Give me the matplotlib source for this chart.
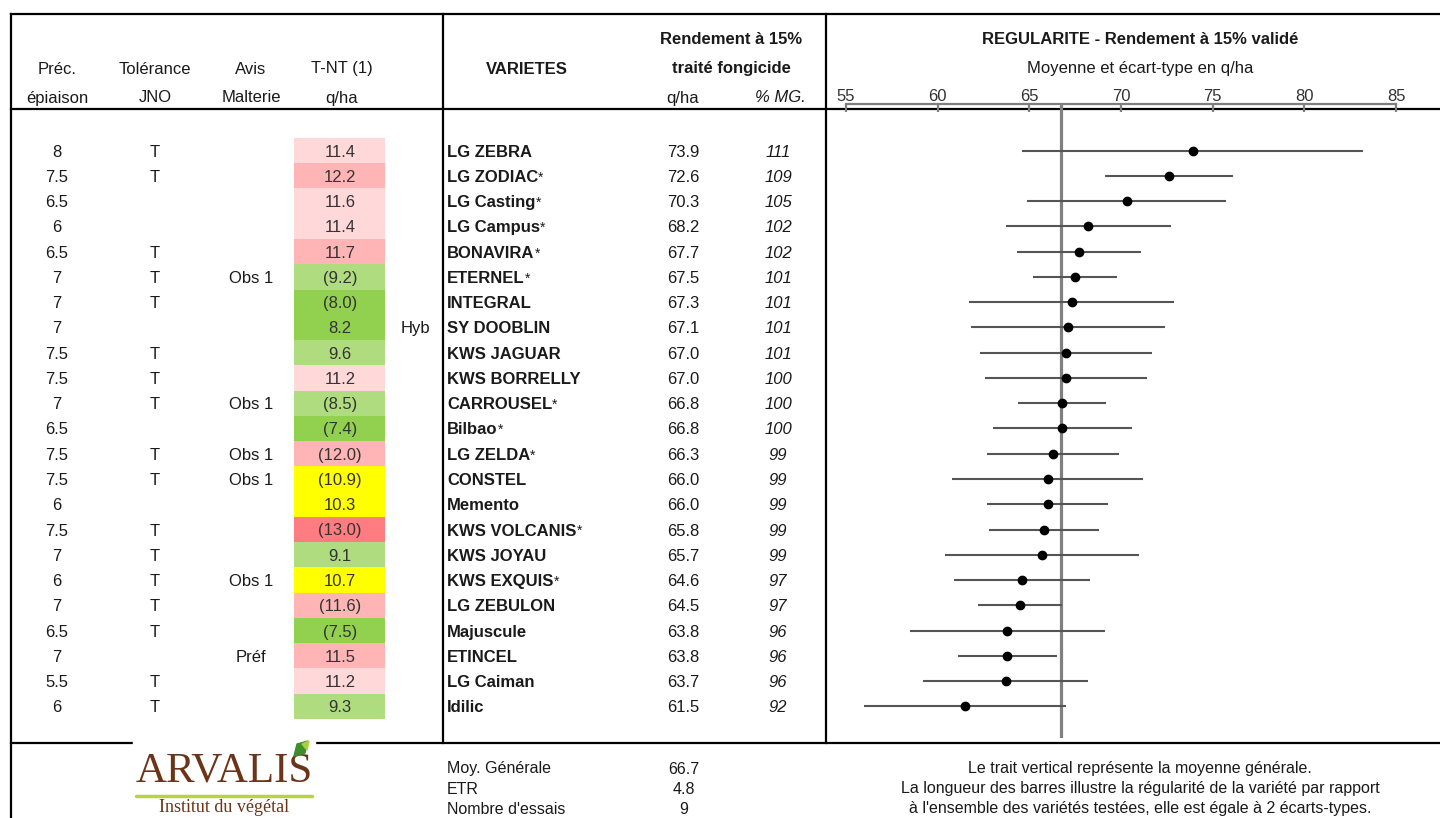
import numpy as np
import matplotlib
matplotlib.use("Agg")
import matplotlib.pyplot as plt
from matplotlib.patches import Rectangle, Polygon

plt.rcParams['font.family'] = ['Liberation Sans', 'DejaVu Sans']

# ---- data ----
prec = ['8', '7.5', '6.5', '6', '6.5', '7', '7', '7', '7.5', '7.5', '7', '6.5',
        '7.5', '7.5', '6', '7.5', '7', '6', '7', '6.5', '7', '5.5', '6']
tolerance = ['T', 'T', '', '', 'T', 'T', 'T', '', 'T', 'T', 'T', '',
             'T', 'T', '', 'T', 'T', 'T', 'T', 'T', '', 'T', 'T']
avis = ['', '', '', '', '', 'Obs 1', '', '', '', '', 'Obs 1', '',
        'Obs 1', 'Obs 1', '', '', '', 'Obs 1', '', '', 'Préf', '', '']
tnt = ['11.4', '12.2', '11.6', '11.4', '11.7', '(9.2)', '(8.0)', '8.2', '9.6', '11.2', '(8.5)', '(7.4)',
       '(12.0)', '(10.9)', '10.3', '(13.0)', '9.1', '10.7', '(11.6)', '(7.5)', '11.5', '11.2', '9.3']
tnt_class = ['lp', 'mp', 'lp', 'lp', 'mp', 'lg', 'mg', 'mg', 'lg', 'lp', 'lg', 'mg',
             'mp', 'y', 'y', 'r', 'lg', 'y', 'mp', 'mg', 'mp', 'lp', 'lg']
hyb = ['', '', '', '', '', '', '', 'Hyb', '', '', '', '', '', '', '', '', '', '', '', '', '', '', '']
varietes = ['LG ZEBRA', 'LG ZODIAC', 'LG Casting', 'LG Campus', 'BONAVIRA', 'ETERNEL', 'INTEGRAL',
            'SY DOOBLIN', 'KWS JAGUAR', 'KWS BORRELLY', 'CARROUSEL', 'Bilbao', 'LG ZELDA', 'CONSTEL',
            'Memento', 'KWS VOLCANIS', 'KWS JOYAU', 'KWS EXQUIS', 'LG ZEBULON', 'Majuscule',
            'ETINCEL', 'LG Caiman', 'Idilic']
asterisk = [0, 1, 1, 1, 1, 1, 0, 0, 0, 0, 1, 1, 1, 0, 0, 1, 0, 1, 0, 0, 0, 0, 0]
rendement = [73.9, 72.6, 70.3, 68.2, 67.7, 67.5, 67.3, 67.1, 67.0, 67.0, 66.8, 66.8,
             66.3, 66.0, 66.0, 65.8, 65.7, 64.6, 64.5, 63.8, 63.8, 63.7, 61.5]
pct_mg = [111, 109, 105, 102, 102, 101, 101, 101, 101, 100, 100, 100,
          99, 99, 99, 99, 99, 97, 97, 96, 96, 96, 92]
ecart = [9.3, 3.5, 5.4, 4.5, 3.4, 2.3, 5.6, 5.3, 4.7, 4.4, 2.4, 3.8,
         3.6, 5.2, 3.3, 3.0, 5.3, 3.7, 2.3, 5.3, 2.7, 4.5, 5.5]
moy_generale = 66.7
etr = 4.8
nb_essais = 9
xticks = [55, 60, 65, 70, 75, 80, 85]

cell_colors = {'lp': '#FFD9D9', 'mp': '#FFB5B5', 'r': '#FF7C80',
               'lg': '#AEDC7E', 'mg': '#92D050', 'y': '#FFFF00'}

# ---- layout (pixels) ----
W, H = 1440, 818
Y0, ROW_H = 150.6, 25.26
n = len(varietes)
rows_y = Y0 + ROW_H * np.arange(n)

fig = plt.figure(figsize=(W / 100, H / 100), dpi=100)
ax = fig.add_axes([0, 0, 1, 1])
ax.set_xlim(0, W)
ax.set_ylim(H, 0)
ax.axis('off')

# frame
lw = 1.6
ax.plot([11, W], [14, 14], color='black', lw=lw)
ax.plot([11, W], [109, 109], color='black', lw=lw)
ax.plot([11, W], [743, 743], color='black', lw=lw)
ax.plot([11, 11], [14, H], color='black', lw=lw)
ax.plot([443, 443], [14, 743], color='black', lw=lw)
ax.plot([826, 826], [14, 743], color='black', lw=lw)

fs = 12
tc = '#1a1a1a'
# headers
ax.text(57, 69, 'Préc.', ha='center', va='center', fontsize=fs, color=tc)
ax.text(57, 98, 'épiaison', ha='center', va='center', fontsize=fs, color=tc)
ax.text(155, 69, 'Tolérance', ha='center', va='center', fontsize=fs, color=tc)
ax.text(155, 98, 'JNO', ha='center', va='center', fontsize=fs, color=tc)
ax.text(251, 69, 'Avis', ha='center', va='center', fontsize=fs, color=tc)
ax.text(251, 98, 'Malterie', ha='center', va='center', fontsize=fs, color=tc)
ax.text(342, 69, 'T-NT (1)', ha='center', va='center', fontsize=fs, color=tc)
ax.text(342, 98, 'q/ha', ha='center', va='center', fontsize=fs, color=tc)
ax.text(527, 69, 'VARIETES', ha='center', va='center', fontsize=fs, weight='bold', color=tc)
ax.text(731, 40, 'Rendement à 15%', ha='center', va='center', fontsize=fs, weight='bold', color=tc)
ax.text(731, 69, 'traité fongicide', ha='center', va='center', fontsize=fs, weight='bold', color=tc)
ax.text(683, 98, 'q/ha', ha='center', va='center', fontsize=fs, color=tc)
ax.text(780, 98, '% MG.', ha='center', va='center', fontsize=fs, style='italic', color=tc)
ax.text(1140, 40, 'REGULARITE - Rendement à 15% validé', ha='center', va='center',
        fontsize=fs, weight='bold', color=tc)
ax.text(1140, 69, 'Moyenne et écart-type en q/ha', ha='center', va='center', fontsize=fs, color=tc)

# T-NT coloured cells
ax.barh(rows_y, 91, left=294, height=ROW_H, color=[cell_colors[c] for c in tnt_class], lw=0)

for i, y in enumerate(rows_y):
    ty = y + 1.5
    ax.text(57, ty, prec[i], ha='center', va='center', fontsize=fs, color=tc)
    ax.text(155, ty, tolerance[i], ha='center', va='center', fontsize=fs, color=tc)
    ax.text(251, ty, avis[i], ha='center', va='center', fontsize=fs, color=tc)
    ax.text(340, ty, tnt[i], ha='center', va='center', fontsize=fs, color='#333333')
    ax.text(415, ty, hyb[i], ha='center', va='center', fontsize=fs, color=tc)
    t = ax.text(447, ty, varietes[i], ha='left', va='center', fontsize=fs, weight='bold', color=tc)
    if asterisk[i]:
        ax.annotate('*', xy=(1, 0.95), xycoords=t, ha='left', va='top', fontsize=10, color=tc)
    ax.text(683, ty, f'{rendement[i]:.1f}', ha='center', va='center', fontsize=fs, color=tc)
    ax.text(778, ty, str(pct_mg[i]), ha='center', va='center', fontsize=fs, style='italic', color=tc)

# footer
ffs = 11.5
ax.text(447, 769, 'Moy. Générale', ha='left', va='center', fontsize=ffs, color=tc)
ax.text(447, 789, 'ETR', ha='left', va='center', fontsize=ffs, color=tc)
ax.text(447, 809, "Nombre d'essais", ha='left', va='center', fontsize=ffs, color=tc)
ax.text(684, 769, f'{moy_generale:.1f}', ha='center', va='center', fontsize=ffs, color=tc)
ax.text(684, 789, f'{etr:.1f}', ha='center', va='center', fontsize=ffs, color=tc)
ax.text(684, 809, str(nb_essais), ha='center', va='center', fontsize=ffs, color=tc)
ax.text(1140, 769, 'Le trait vertical représente la moyenne générale.', ha='center', va='center',
        fontsize=ffs, color=tc)
ax.text(1140, 789, 'La longueur des barres illustre la régularité de la variété par rapport',
        ha='center', va='center', fontsize=ffs, color=tc)
ax.text(1140, 809, "à l'ensemble des variétés testées, elle est égale à 2 écarts-types.",
        ha='center', va='center', fontsize=ffs, color=tc)

# logo
ax.add_patch(Rectangle((133, 738), 182, 90, color='white', zorder=5))
ax.text(224, 771, 'ARVALIS', ha='center', va='center', fontsize=31, family='Liberation Serif',
        color='#6B3418', zorder=6)
ax.plot([136, 312], [796, 796], color='#B8D43A', lw=2.5, zorder=6, solid_capstyle='round')
ax.text(224, 808, 'Institut du végétal', ha='center', va='center', fontsize=13,
        family='Liberation Serif', color='#6B3418', zorder=6)
ax.add_patch(Polygon([[294, 756], [297, 744], [308, 741], [305, 753]], closed=True,
                     color='#3E8E2C', zorder=6))
ax.add_patch(Polygon([[302, 744], [309, 741], [307, 750]], closed=True,
                     color='#A8D040', zorder=6))

# ---- regularity chart ----
top_px, bot_px = 104, 738
cx = fig.add_axes([846 / W, (H - bot_px) / H, 550 / W, (bot_px - top_px) / H])
cx.set_xlim(55, 85)
cx.set_ylim((bot_px - Y0) / ROW_H, (top_px - Y0) / ROW_H)
cx.patch.set_alpha(0)
for s in ['left', 'right', 'bottom']:
    cx.spines[s].set_visible(False)
cx.spines['top'].set_color('#7f7f7f')
cx.spines['top'].set_linewidth(1.6)
cx.set_xticks(xticks)
cx.set_yticks([])
cx.tick_params(axis='x', top=True, bottom=False, labeltop=True, labelbottom=False,
               direction='in', length=6, width=1.6, color='#7f7f7f', pad=0,
               labelsize=12, labelcolor='#333333')

cx.axvline(moy_generale, color='#808080', lw=2.3, zorder=1)
cx.errorbar(rendement, np.arange(n), xerr=ecart, fmt='o', color='black', ms=6,
            ecolor='#555555', elinewidth=1.5, capsize=0, zorder=3, clip_on=False)

fig.savefig('out.png', dpi=100)
